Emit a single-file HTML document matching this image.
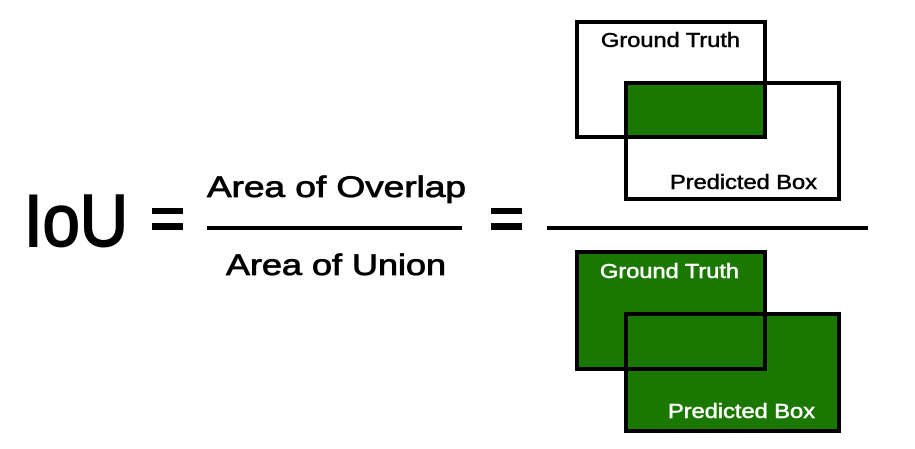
<!DOCTYPE html>
<html><head><style>html,body{margin:0;padding:0;background:#fff;}svg{display:block}</style></head>
<body>
<svg width="915" height="449" viewBox="0 0 915 449" xmlns="http://www.w3.org/2000/svg" font-family="'Liberation Sans', sans-serif">
<rect width="915" height="449" fill="#fff"/>
<!-- left formula -->
<text x="24" y="246" font-size="73" textLength="104" lengthAdjust="spacingAndGlyphs" stroke="#000" stroke-width="2">IoU</text>
<rect x="152" y="208" width="31" height="6" fill="#000"/>
<rect x="152" y="223" width="31" height="7" fill="#000"/>
<g stroke="#000" stroke-width="0.8">
<text x="207" y="197" font-size="30" textLength="259" lengthAdjust="spacingAndGlyphs">Area of Overlap</text>
<text x="226" y="275" font-size="30" textLength="220" lengthAdjust="spacingAndGlyphs">Area of Union</text>
</g>
<rect x="207" y="226" width="255" height="4" fill="#000"/>
<rect x="491" y="208" width="31" height="6" fill="#000"/>
<rect x="491" y="223" width="31" height="7" fill="#000"/>
<rect x="547" y="226" width="321" height="4" fill="#000"/>
<!-- top boxes -->
<rect x="577" y="22" width="188" height="115" fill="none" stroke="#000" stroke-width="4"/>
<rect x="626" y="83" width="213" height="116" fill="none" stroke="#000" stroke-width="4"/>
<rect x="628" y="85" width="135" height="50" fill="#1a7800"/>
<path d="M626 83 H765 V137 H626 Z" fill="none" stroke="#000" stroke-width="4"/>
<g stroke="#000" stroke-width="0.5">
<text x="601" y="47" font-size="20" textLength="139" lengthAdjust="spacingAndGlyphs">Ground Truth</text>
<text x="670" y="189" font-size="20" textLength="147" lengthAdjust="spacingAndGlyphs">Predicted Box</text>
</g>
<!-- bottom boxes -->
<rect x="577" y="252" width="188" height="117" fill="#1a7800" stroke="#000" stroke-width="4"/>
<rect x="626" y="314" width="213" height="117" fill="#1a7800" stroke="#000" stroke-width="4"/>
<path d="M626 314 H765 V369 H626" fill="none" stroke="#000" stroke-width="4"/>
<g fill="#fff" stroke="#fff" stroke-width="0.5">
<text x="600" y="278" font-size="20" textLength="139" lengthAdjust="spacingAndGlyphs">Ground Truth</text>
<text x="668" y="418" font-size="20" textLength="147" lengthAdjust="spacingAndGlyphs">Predicted Box</text>
</g>
</svg>
</body></html>
